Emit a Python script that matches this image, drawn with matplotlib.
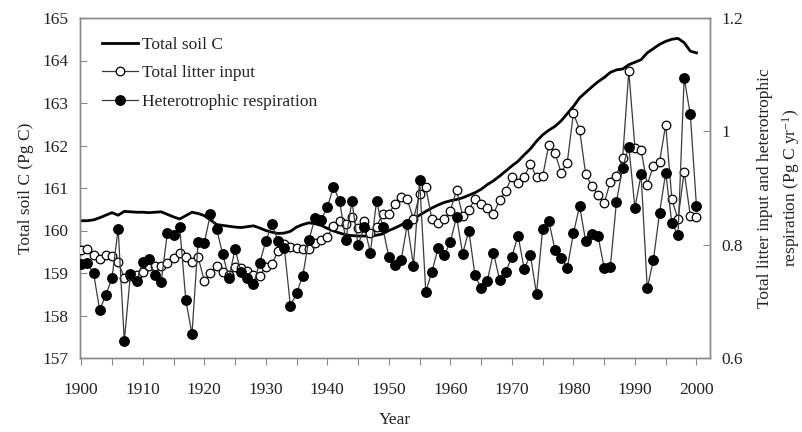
import numpy as np
import matplotlib
matplotlib.use("Agg")
import matplotlib.pyplot as plt
from matplotlib.lines import Line2D

plt.rcParams['font.family'] = ['Liberation Serif', 'DejaVu Serif']
plt.rcParams['mathtext.fontset'] = 'custom'
plt.rcParams['mathtext.rm'] = 'Liberation Serif'
plt.rcParams['mathtext.it'] = 'Liberation Serif:italic'

years = list(range(1900, 2001))

soil_c = [
    160.23, 160.23, 160.25, 160.30, 160.36, 160.42, 160.36, 160.45, 160.44, 160.43,
    160.43, 160.42, 160.43, 160.44, 160.38, 160.32, 160.27, 160.35, 160.43, 160.40,
    160.35, 160.25, 160.14, 160.12, 160.10, 160.08, 160.07, 160.09, 160.11, 160.06,
    160.00, 159.96, 159.93, 159.94, 159.98, 160.08, 160.14, 160.18, 160.16, 160.12,
    160.05, 159.99, 159.94, 159.90, 159.88, 159.87, 159.87, 159.87, 159.89, 159.92,
    160.00, 160.06, 160.13, 160.21, 160.28, 160.36, 160.45, 160.53, 160.60, 160.66,
    160.70, 160.73, 160.77, 160.83, 160.89, 160.97, 161.08, 161.17, 161.28, 161.40,
    161.52, 161.63, 161.78, 161.92, 162.10, 162.25, 162.36, 162.45, 162.58, 162.75,
    162.92, 163.12, 163.25, 163.38, 163.50, 163.60, 163.72, 163.78, 163.80, 163.90,
    163.96, 164.02, 164.18, 164.28, 164.38, 164.45, 164.50, 164.52, 164.42, 164.22,
    164.18,
]

litter_input = [
    0.790, 0.792, 0.782, 0.774, 0.782, 0.780, 0.770, 0.741, 0.745, 0.746,
    0.751, 0.762, 0.762, 0.762, 0.767, 0.776, 0.785, 0.778, 0.770, 0.778,
    0.736, 0.750, 0.762, 0.752, 0.746, 0.760, 0.758, 0.754, 0.746, 0.745,
    0.761, 0.766, 0.789, 0.801, 0.796, 0.794, 0.792, 0.792, 0.803, 0.809,
    0.814, 0.833, 0.842, 0.836, 0.848, 0.829, 0.841, 0.821, 0.832, 0.855,
    0.855, 0.872, 0.885, 0.880, 0.845, 0.889, 0.901, 0.845, 0.838, 0.845,
    0.860, 0.896, 0.851, 0.861, 0.881, 0.872, 0.864, 0.854, 0.879, 0.895,
    0.920, 0.908, 0.919, 0.943, 0.919, 0.921, 0.976, 0.962, 0.927, 0.945,
    1.032, 1.003, 0.924, 0.904, 0.888, 0.873, 0.911, 0.922, 0.953, 1.106,
    0.971, 0.967, 0.906, 0.939, 0.946, 1.012, 0.880, 0.845, 0.929, 0.851,
    0.849,
]

het_resp = [
    0.766, 0.767, 0.750, 0.685, 0.711, 0.741, 0.828, 0.630, 0.748, 0.736,
    0.770, 0.775, 0.746, 0.735, 0.821, 0.817, 0.832, 0.702, 0.642, 0.805,
    0.803, 0.854, 0.828, 0.783, 0.741, 0.792, 0.751, 0.741, 0.731, 0.768,
    0.806, 0.836, 0.806, 0.795, 0.692, 0.714, 0.745, 0.808, 0.847, 0.844,
    0.866, 0.902, 0.877, 0.808, 0.877, 0.799, 0.832, 0.786, 0.877, 0.831,
    0.778, 0.764, 0.773, 0.836, 0.763, 0.914, 0.717, 0.752, 0.794, 0.781,
    0.805, 0.849, 0.784, 0.825, 0.746, 0.723, 0.736, 0.786, 0.738, 0.752,
    0.779, 0.816, 0.757, 0.782, 0.713, 0.828, 0.842, 0.791, 0.777, 0.759,
    0.820, 0.868, 0.806, 0.818, 0.815, 0.759, 0.761, 0.876, 0.936, 0.973,
    0.865, 0.924, 0.723, 0.773, 0.856, 0.927, 0.838, 0.817, 1.094, 1.030,
    0.868,
]

left_ticks = [157, 158, 159, 160, 161, 162, 163, 164, 165]
right_ticks = [0.6, 0.8, 1.0, 1.2]
right_tick_labels = ["0.6", "0.8", "1", "1.2"]
x_label_ticks = list(range(1900, 2001, 10))

W, H = 803, 432
fig = plt.figure(figsize=(W / 100, H / 100), dpi=100)
ax1 = fig.add_axes([80 / W, 1 - 358 / H, (710 - 80) / W, (358 - 18) / H])
ax2 = ax1.twinx()

text_col = '#222222'
spine_col = '#8a8a8a'
line_col = '#3a3a3a'

l1, = ax1.plot(years, soil_c, color='black', lw=2.0, zorder=2)

l2, = ax2.plot(years, litter_input, color=line_col, lw=0.9, marker='o', ms=6.2,
               mfc='white', mec='black', mew=0.9, zorder=3)
l3, = ax2.plot(years, het_resp, color=line_col, lw=0.9, marker='o', ms=6.8,
               mfc='black', mec='black', zorder=4)

ax1.set_xlim(1899.8, 2002.2)
ax1.set_ylim(157, 165)
ax2.set_ylim(0.6, 1.2)

ax1.set_xticks(x_label_ticks)
ax1.set_xticks(list(range(1905, 2001, 10)), minor=True)
ax1.set_yticks(left_ticks)
ax2.set_yticks(right_ticks)
ax2.set_yticklabels(right_tick_labels)

fs = 12.5
ax1.tick_params(axis='x', which='both', direction='out', length=5, width=0.8,
                color=spine_col, labelsize=fs, labelcolor=text_col, pad=12)
ax1.tick_params(axis='y', direction='in', length=5, width=0.8, color=spine_col,
                labelsize=fs, labelcolor=text_col, pad=8)
ax2.tick_params(axis='y', direction='in', length=5, width=0.8, color=spine_col,
                labelsize=fs, labelcolor=text_col, pad=8)
ax2.tick_params(axis='x', which='both', length=0)

for ax in (ax1, ax2):
    for s in ax.spines.values():
        s.set_color(spine_col)
        s.set_linewidth(1.0)

ax1.set_xlabel("Year", fontsize=fs, color=text_col, labelpad=10)
ax1.set_ylabel("Total soil C (Pg C)", fontsize=fs, color=text_col, labelpad=6)
ax2.set_ylabel("Total litter input and heterotrophic\nrespiration (Pg C yr$^{-1}$)",
               fontsize=fs, color=text_col, labelpad=10, linespacing=1.5)

ax2.legend([l1, l2, l3], ["Total soil C", "Total litter input", "Heterotrophic respiration"],
           loc='upper left', bbox_to_anchor=(0.01, 0.99), frameon=False, fontsize=fs,
           handlelength=2.1, handletextpad=0.2, labelspacing=0.7, labelcolor=text_col)

fig.savefig("out.png", dpi=100)
